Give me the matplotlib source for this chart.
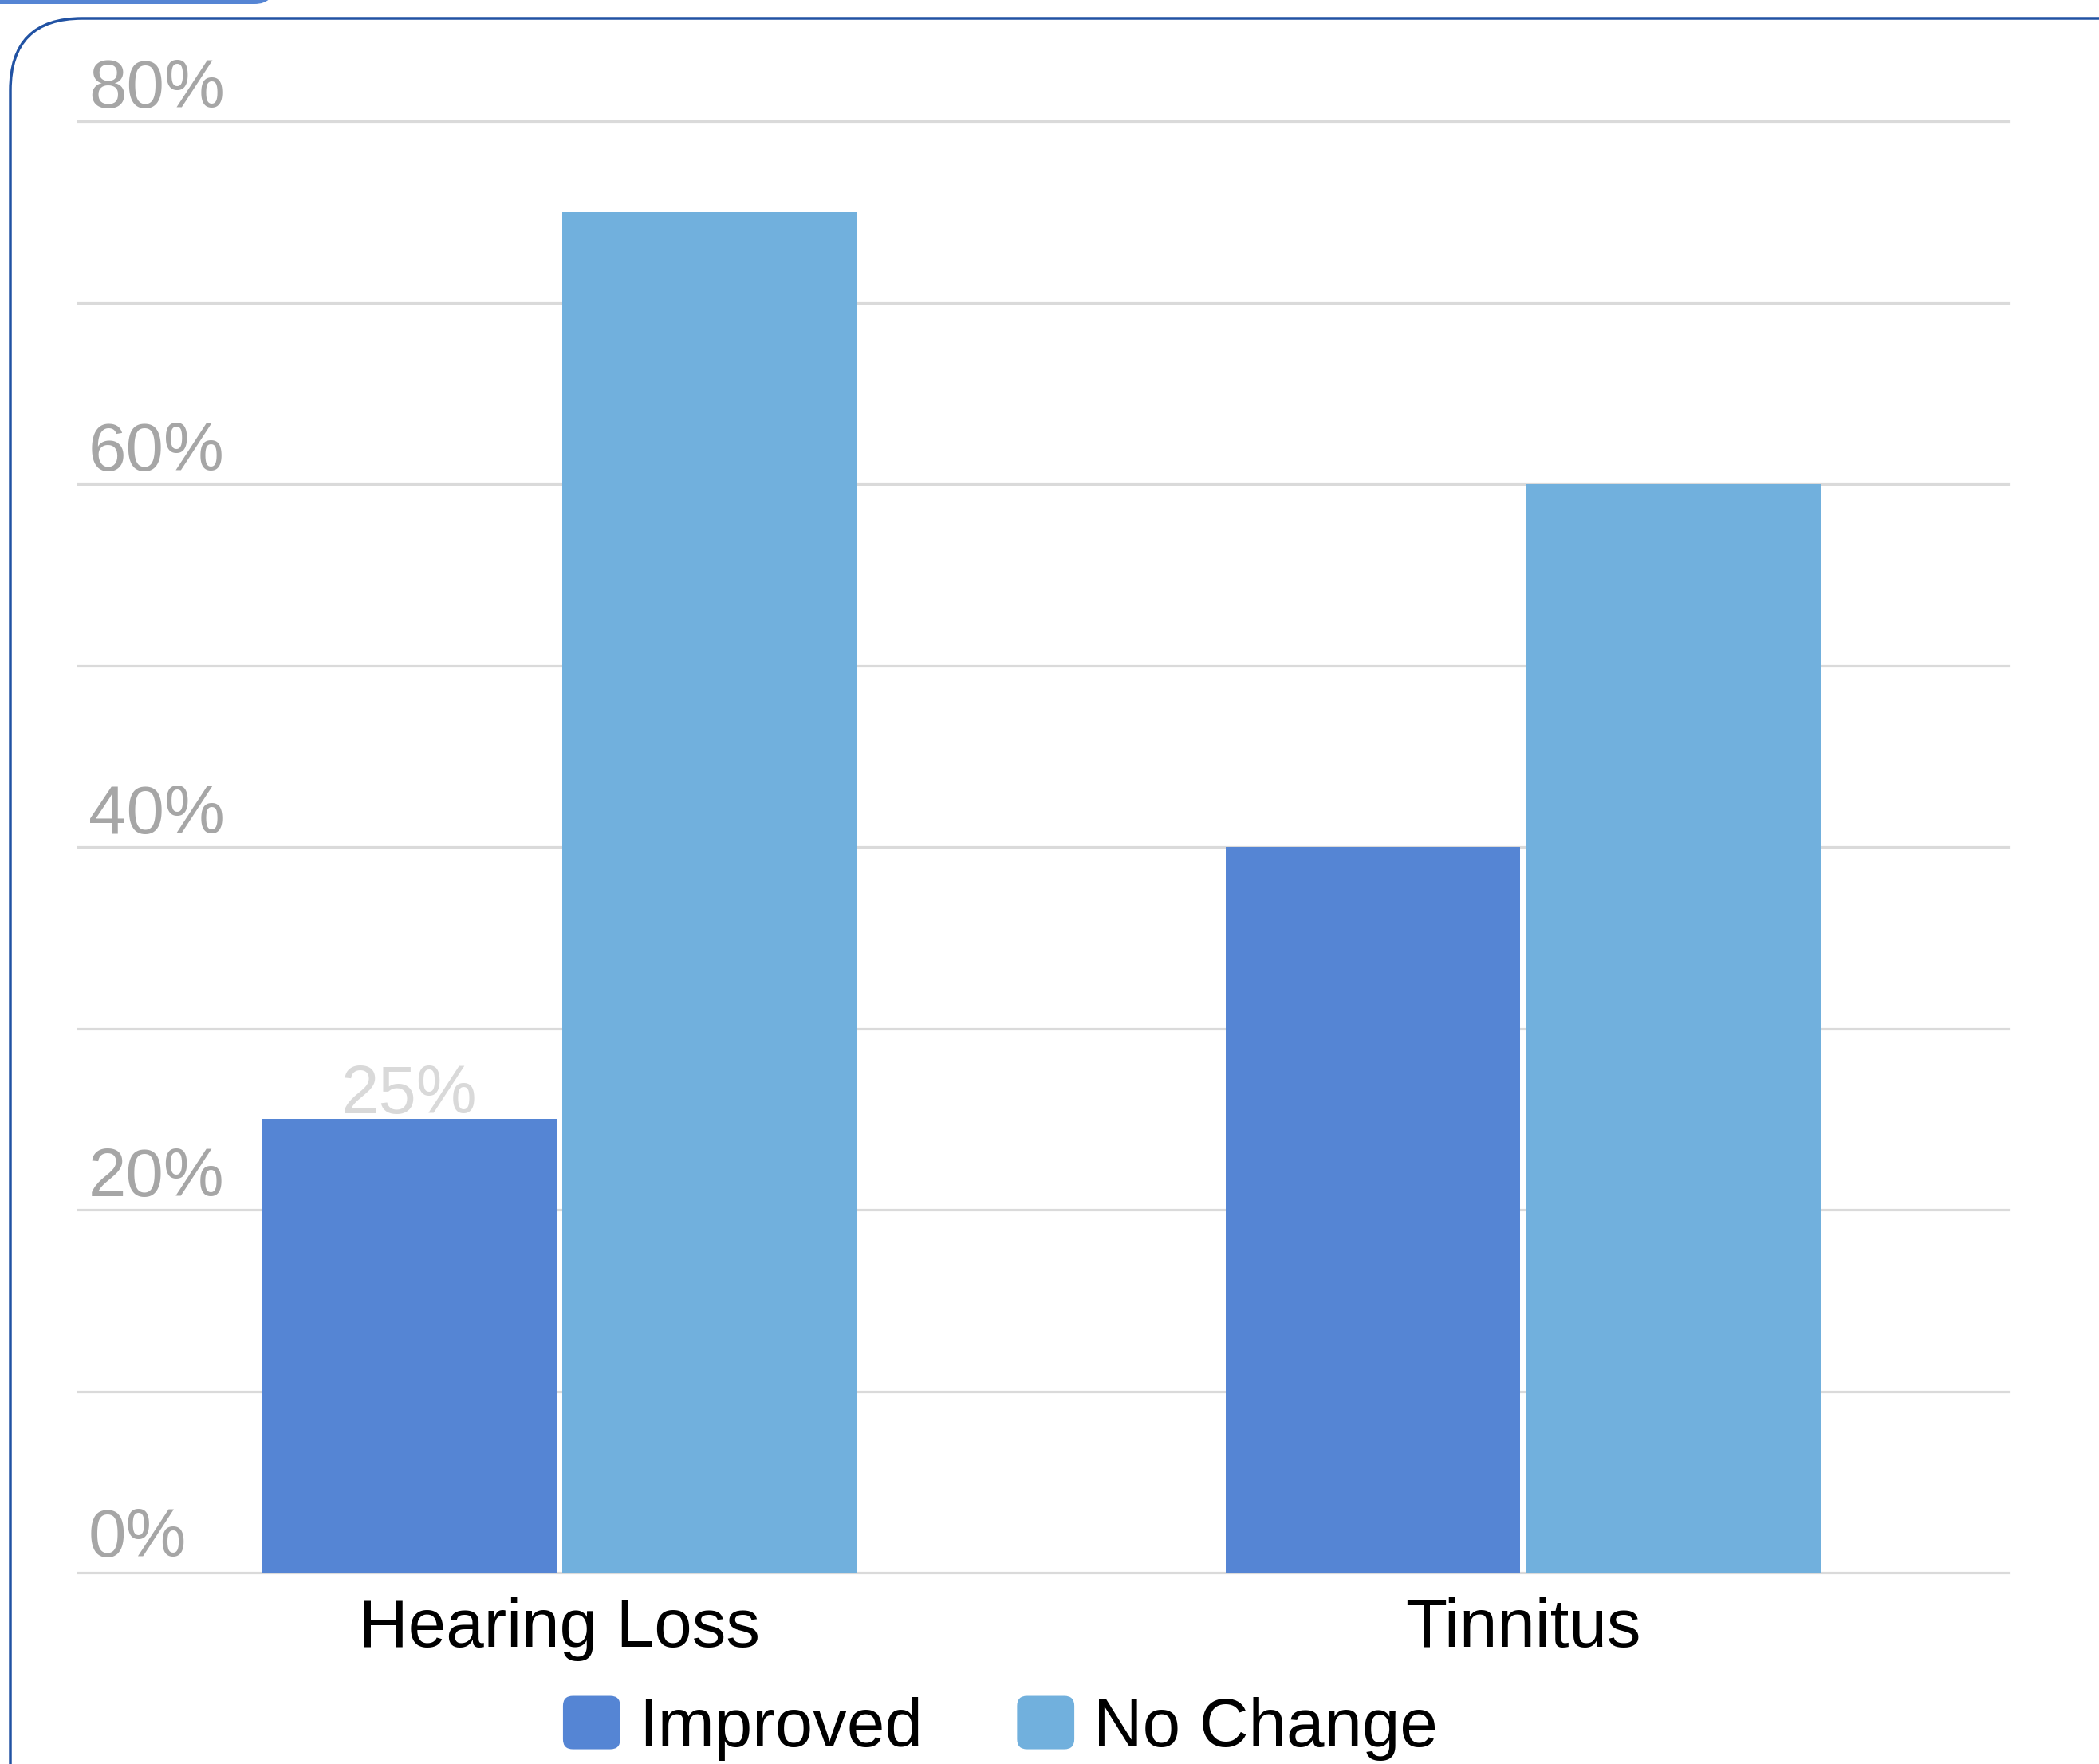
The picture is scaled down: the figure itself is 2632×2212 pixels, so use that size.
import matplotlib
matplotlib.use("Agg")
import matplotlib.pyplot as plt
from matplotlib.patches import FancyBboxPatch, Patch
from matplotlib.legend_handler import HandlerPatch


# ---------------------------------------------------------------------
# Data
# ---------------------------------------------------------------------

categories = ["Hearing Loss", "Tinnitus"]
series_names = ["Improved", "No Change"]
improved = [25, 40]
no_change = [75, 60]
grid_values = [0, 10, 20, 30, 40, 50, 60, 70, 80]
ytick_values = [0, 20, 40, 60, 80]
ytick_labels = ["0%", "20%", "40%", "60%", "80%"]
shown_labels = [("Improved", 0)]  # only the label the chart actually shows

colors = ["#5585d4", "#71b0dd"]
grid_color = "#dadada"
tick_color = "#a6a6a6"
border_color = "#2152a3"
FONT = ["Liberation Sans", "DejaVu Sans"]
FS = 61.5

plt.rcParams["font.family"] = FONT


class RoundHandler(HandlerPatch):
	def create_artists(self, legend, orig_handle, xdescent, ydescent,
					   width, height, fontsize, trans):
		p = FancyBboxPatch((-xdescent, -ydescent), width, height,
						   boxstyle="round,pad=0,rounding_size=9",
						   facecolor=orig_handle.get_facecolor(),
						   edgecolor="none", transform=trans)
		return [p]


def main():
	W, H = 2632, 2212
	fig = plt.figure(figsize=(W / 100, H / 100), dpi=100)
	fig.patch.set_facecolor("white")

	# rounded card border and tab at the top
	fig.patches.append(FancyBboxPatch(
		(13, -200), 2800, H - 23 + 200,
		boxstyle="round,pad=0,rounding_size=90",
		facecolor="none", edgecolor=border_color, linewidth=2.5,
		transform=None, figure=fig))
	fig.patches.append(FancyBboxPatch(
		(-100, H - 5), 444, 100,
		boxstyle="round,pad=0,rounding_size=25",
		facecolor=colors[0], edgecolor="none",
		transform=None, figure=fig))

	ax = fig.add_axes([98 / W, 1 - 1972 / H, 2421 / W, 1820 / H])
	ax.set_xlim(-0.4994, 1.504)
	ax.set_ylim(0, 80)
	for s in ax.spines.values():
		s.set_visible(False)
	ax.set_yticks([])

	for v in grid_values:
		ax.axhline(v, color=grid_color, lw=2.3, zorder=0, clip_on=False)

	bw = 0.305
	gap = 0.0066
	xs = list(range(len(categories)))
	b1 = ax.bar([x - bw / 2 - gap / 2 for x in xs], improved, width=bw,
				color=colors[0], zorder=2, label=series_names[0])
	b2 = ax.bar([x + bw / 2 + gap / 2 for x in xs], no_change, width=bw,
				color=colors[1], zorder=2, label=series_names[1])

	for v, lab in zip(ytick_values, ytick_labels):
		ax.annotate(lab, xy=(0, v), xycoords=ax.get_yaxis_transform(),
					xytext=(13, 20 if v == 0 else 17), textcoords="offset pixels",
					ha="left", va="baseline", fontsize=FS, color=tick_color,
					annotation_clip=False)

	bars = {"Improved": b1, "No Change": b2}
	for name, i in shown_labels:
		r = bars[name][i]
		ax.annotate(f"{r.get_height():.0f}%",
					xy=(r.get_x() + r.get_width() / 2, r.get_height()),
					xytext=(0, 7), textcoords="offset pixels",
					ha="center", va="baseline", fontsize=FS, color="#d9d9d9")

	ax.set_xticks(xs)
	ax.set_xticklabels(categories, fontsize=FS, color="black")
	ax.tick_params(axis="x", length=0, pad=22)

	handles = [Patch(facecolor=c, label=n) for c, n in zip(colors, series_names)]
	fig.legend(handles=handles, loc="center", bbox_to_anchor=(0.4766, 0.0203),
			   ncol=2, frameon=False, fontsize=FS, borderpad=0,
			   handlelength=0.84, handleheight=0.83, handletextpad=0.28,
			   columnspacing=1.38,
			   handler_map={Patch: RoundHandler()})

	fig.savefig("out.png", dpi=100)


if __name__ == "__main__":
	main()
